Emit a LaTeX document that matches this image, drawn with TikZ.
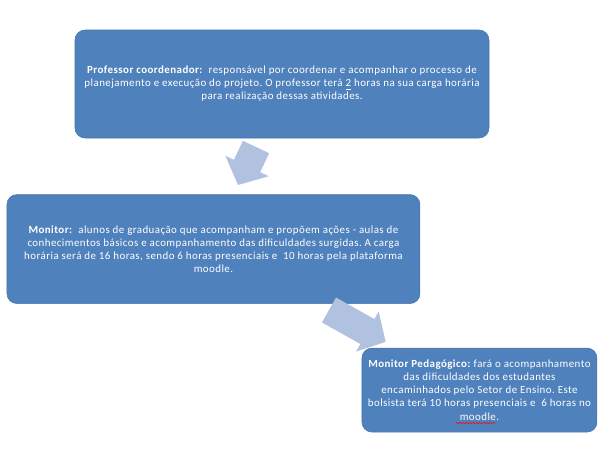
\documentclass[tikz,border=0pt]{standalone}
\usepackage{fontspec}
\setmainfont{Carlito}[LetterSpace=4]
\frenchspacing
\usepackage{xcolor}
\definecolor{boxblue}{RGB}{79,129,189}
\definecolor{boxedge}{RGB}{70,116,171}
\definecolor{arrblue}{RGB}{176,194,224}
\usetikzlibrary{positioning,decorations.pathmorphing}

\begin{document}
\begin{tikzpicture}[
  x=0.75pt,y=-0.75pt,
  rbox/.style={rectangle,draw=boxedge,rounded corners=7.5pt,fill=boxblue,text=white,align=center,inner sep=2pt,font=\fontsize{8.2}{9.8}\selectfont},
  blockarr/.style={fill=arrblue}
]
  \useasboundingbox (0,0) rectangle (616,465);

  % Coordenador
  \node[rbox,minimum width=310.5pt,minimum height=81pt] (coord) at (282,84)
    {\textbf{Professor coordenador:}\ \ responsável por coordenar e acompanhar o processo de\\
     planejamento e execução do projeto. O professor terá \underline{2} horas na sua carga horária\\
     para realização dessas atividades.};

  % Monitor
  \node[rbox,minimum width=309.75pt,minimum height=81.75pt,below=42pt of coord,xshift=-51.4pt] (mon)
    {\textbf{Monitor:}\ \ alunos de graduação que acompanham e propõem ações - aulas de\\
     conhecimentos básicos e acompanhamento das dificuldades surgidas. A carga\\
     horária será de 16 horas, sendo 6 horas presenciais e\ \ 10 horas pela plataforma\\
     moodle.};

  % Monitor pedagogico
  \node[rbox,minimum width=176.25pt,minimum height=63pt,below=33pt of mon,xshift=199.5pt] (mped)
    {\textbf{Monitor Pedagógico:} fará o acompanhamento\\
     das dificuldades dos estudantes\\
     encaminhados pelo Setor de Ensino. Este\\
     bolsista terá 10 horas presenciais e\ \ 6 horas no\\
     moodle.};
  \draw[red,decorate,decoration={snake,amplitude=0.5pt,segment length=2.5pt}]
    ([xshift=-18pt,yshift=7pt]mped.south) -- ([xshift=12pt,yshift=7pt]mped.south);

  % Setas
  \fill[blockarr,shift={(256,147)},rotate=-115.3]
    (0,-14.5) -- (21,-14.5) -- (21,-24) -- (42,0) -- (21,24) -- (21,14.5) -- (0,14.5) -- cycle;
  \fill[blockarr,shift={(329,310)},rotate=-29.3]
    (0,-14.3) -- (44,-14.3) -- (44,-23) -- (65,0) -- (44,23) -- (44,14.3) -- (0,14.3) -- cycle;
\end{tikzpicture}
\end{document}
